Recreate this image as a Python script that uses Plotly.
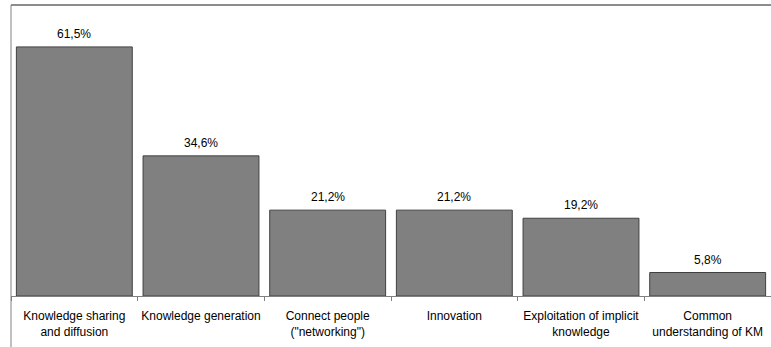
import plotly.graph_objects as go

categories = [
    "Knowledge sharing<br>and diffusion",
    "Knowledge generation",
    "Connect people<br>(\"networking\")",
    "Innovation",
    "Exploitation of implicit<br>knowledge",
    "Common<br>understanding of KM",
]
values = [61.5, 34.6, 21.2, 21.2, 19.2, 5.8]

fig = go.Figure(
    go.Bar(
        x=categories,
        y=values,
        marker=dict(color="#808080", line=dict(color="#404040", width=1)),
        cliponaxis=False,
    )
)

for c, v in zip(categories, values):
    fig.add_annotation(
        x=c, y=v, xref="x", yref="y",
        text=f"{v:.1f}%".replace(".", ","),
        showarrow=False, yanchor="bottom", yshift=4,
        font=dict(family="Liberation Sans, Arial", size=12, color="#000000"),
    )

fig.update_layout(
    width=771,
    height=347,
    margin=dict(l=11, r=0, t=5, b=51),
    paper_bgcolor="white",
    plot_bgcolor="white",
    separators=",.",
    bargap=0.085,
    showlegend=False,
    font=dict(family="Liberation Sans, Arial", size=12, color="#000000"),
    xaxis=dict(
        type="category",
        showline=True,
        linecolor="#808080",
        linewidth=1,
        ticks="outside",
        tickson="boundaries",
        ticklen=4,
        tickcolor="#808080",
        showgrid=False,
        tickangle=0,
        ticklabelstandoff=9,
        tickfont=dict(size=12, color="#000000"),
    ),
    yaxis=dict(
        range=[0, 71.85],
        visible=False,
        showgrid=False,
        zeroline=False,
    ),
    shapes=[
        dict(type="line", xref="paper", yref="paper", x0=0, x1=1, y0=1, y1=1,
             line=dict(color="#8c8c8c", width=2)),
        dict(type="line", xref="paper", yref="paper", x0=0, x1=0, y0=1, y1=-0.2,
             line=dict(color="#808080", width=1)),
    ],
)

fig.write_html("out.html")
